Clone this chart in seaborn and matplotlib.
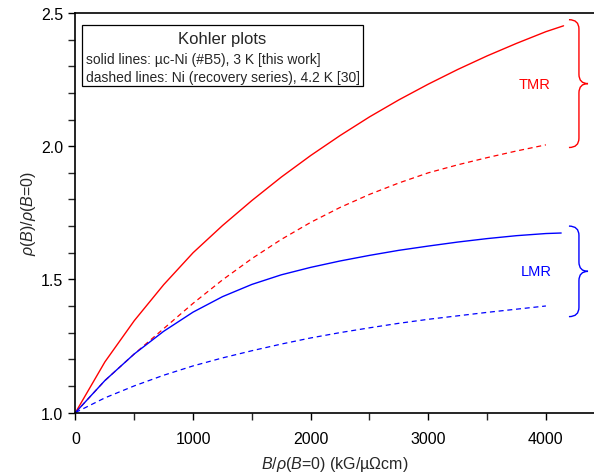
import numpy as np
import pandas as pd
import matplotlib
matplotlib.use("Agg")
import matplotlib.pyplot as plt
import seaborn as sns
from matplotlib.path import Path
from matplotlib.patches import PathPatch, Rectangle

# ---- data ----
x_tmr_uc = [0, 250, 500, 750, 1000, 1250, 1500, 1750, 2000, 2250, 2500, 2750,
            3000, 3250, 3500, 3750, 4000, 4150]
y_tmr_uc = [1.0, 1.19, 1.345, 1.48, 1.60, 1.702, 1.796, 1.884, 1.965, 2.04, 2.11, 2.174,
            2.233, 2.288, 2.339, 2.386, 2.43, 2.452]

x_tmr_ni = [0, 250, 500, 750, 1000, 1250, 1500, 1750, 2000, 2250, 2500, 2750,
            3000, 3250, 3500, 3750, 4000]
y_tmr_ni = [1.0, 1.12, 1.22, 1.315, 1.41, 1.498, 1.578, 1.65, 1.714, 1.77, 1.819, 1.862,
            1.90, 1.93, 1.957, 1.982, 2.005]

x_lmr_uc = [0, 250, 500, 750, 1000, 1250, 1500, 1750, 2000, 2250, 2500, 2750,
            3000, 3250, 3500, 3750, 4000, 4130]
y_lmr_uc = [1.0, 1.12, 1.22, 1.305, 1.377, 1.435, 1.481, 1.517, 1.545, 1.569, 1.59, 1.609,
            1.625, 1.64, 1.653, 1.664, 1.672, 1.674]

x_lmr_ni = [0, 250, 500, 750, 1000, 1250, 1500, 1750, 2000, 2250, 2500, 2750,
            3000, 3250, 3500, 3750, 4000]
y_lmr_ni = [1.0, 1.055, 1.10, 1.14, 1.175, 1.205, 1.232, 1.257, 1.28, 1.30, 1.318, 1.335,
            1.35, 1.363, 1.376, 1.388, 1.40]

x_ticks = [0, 1000, 2000, 3000, 4000]
y_ticks = [1.0, 1.5, 2.0, 2.5]

legend_title = "Kohler plots"
legend_lines = ["solid lines: \u00b5c-Ni (#B5), 3 K [this work]",
                "dashed lines: Ni (recovery series), 4.2 K [30]"]

sns.set_theme(style="ticks")
plt.rcParams['font.family'] = ['Liberation Sans', 'DejaVu Sans']
plt.rcParams['mathtext.fontset'] = 'custom'
plt.rcParams['mathtext.rm'] = 'Liberation Sans'
plt.rcParams['mathtext.it'] = 'Liberation Sans:italic'

fig = plt.figure(figsize=(5.94, 4.77), dpi=100)
ax = fig.add_axes([0.1271, 0.1331, 0.8729, 0.8375])

red = "#ff0000"
blue = "#0000ff"
sns.lineplot(x=x_tmr_uc, y=y_tmr_uc, ax=ax, color=red, lw=1.0)
sns.lineplot(x=x_tmr_ni, y=y_tmr_ni, ax=ax, color=red, lw=0.9, linestyle=(0, (4, 3)))
sns.lineplot(x=x_lmr_uc, y=y_lmr_uc, ax=ax, color=blue, lw=1.0)
sns.lineplot(x=x_lmr_ni, y=y_lmr_ni, ax=ax, color=blue, lw=0.9, linestyle=(0, (4, 3)))

ax.set_xlim(0, 4409)
ax.set_ylim(1.0, 2.5)
ax.set_xticks(x_ticks)
ax.set_xticklabels([str(t) for t in x_ticks])
ax.set_xticks(np.arange(500, 4409, 1000), minor=True)
ax.set_yticks(y_ticks)
ax.set_yticklabels([f"{t:.1f}" for t in y_ticks])
ax.set_yticks(np.arange(1.1, 2.5, 0.1), minor=True)
ax.tick_params(axis='both', which='major', direction='out', length=5, width=1.0,
               labelsize=11.5, colors='black', pad=4)
ax.tick_params(axis='both', which='minor', direction='out', length=5, width=1.0)
ax.tick_params(axis='x', pad=8)
for s in ['left', 'bottom', 'top']:
    ax.spines[s].set_linewidth(1.2)
    ax.spines[s].set_color('black')
ax.spines['right'].set_visible(False)

ax.set_xlabel("$B$/$\\rho$($B$=0) (kG/\u00b5\u03a9cm)", fontsize=11.5, labelpad=6)
ax.set_ylabel("$\\rho$($B$)/$\\rho$($B$=0)", fontsize=11.5, labelpad=2)

# legend box
ax.add_patch(Rectangle((0.0135, 0.817), 0.5415, 0.153, transform=ax.transAxes,
                       fill=False, edgecolor='black', lw=0.9))
ax.text(0.283, 0.935, legend_title, transform=ax.transAxes, ha='center', va='center', fontsize=12)
ax.text(0.02, 0.885, legend_lines[0], transform=ax.transAxes, ha='left', va='center', fontsize=10)
ax.text(0.02, 0.840, legend_lines[1], transform=ax.transAxes, ha='left', va='center', fontsize=10)

# braces
def brace(ax, x_end, x_spine, x_tip, top, bottom, color):
    mid = 0.5 * (top + bottom)
    r = 0.035
    verts = [(x_end, top), (x_spine, top), (x_spine, top - r),
             (x_spine, mid + r),
             (x_spine, mid), (x_tip, mid),
             (x_spine, mid), (x_spine, mid - r),
             (x_spine, bottom + r),
             (x_spine, bottom), (x_end, bottom)]
    codes = [Path.MOVETO, Path.CURVE3, Path.CURVE3,
             Path.LINETO,
             Path.CURVE3, Path.CURVE3,
             Path.CURVE3, Path.CURVE3,
             Path.LINETO,
             Path.CURVE3, Path.CURVE3]
    ax.add_patch(PathPatch(Path(verts, codes), fill=False, edgecolor=color, lw=1.0, clip_on=False))

brace(ax, 4196, 4281, 4358, 2.475, 1.995, red)
brace(ax, 4196, 4281, 4358, 1.70, 1.36, blue)

ax.text(3900, 2.235, "TMR", color=red, fontsize=10.5, ha='center', va='center')
ax.text(3915, 1.53, "LMR", color=blue, fontsize=10.5, ha='center', va='center')

fig.savefig("out.png", dpi=100)
